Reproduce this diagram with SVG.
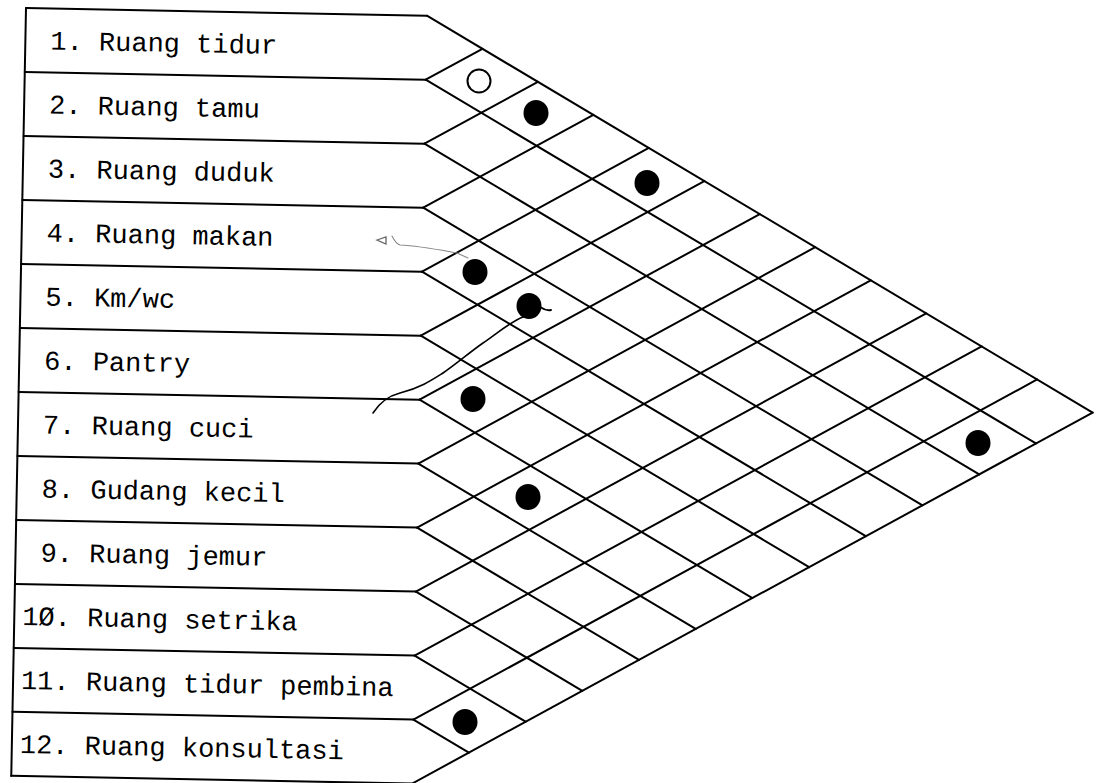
<svg xmlns="http://www.w3.org/2000/svg" width="1097" height="783" viewBox="0 0 1097 783">
<style>
.ln{stroke:#000;stroke-width:2;fill:none;stroke-linecap:round}
.lbl{font-family:"Liberation Mono","DejaVu Sans Mono",monospace;font-size:27px;fill:#000}
.dot{fill:#000}
.open{fill:#fff;stroke:#000;stroke-width:2}
</style>
<rect width="1097" height="783" fill="#fff"/>
<g transform="translate(26,8) rotate(1.1)">
<g id="frame">
<path class="ln" d="M0 0 V768"/>
</g>
<g id="nodes">
<g id="n1"><path class="ln" d="M0 0 H401"/><text class="lbl" x="25" y="41">1. Ruang tidur</text></g>
<g id="n2"><path class="ln" d="M0 64 H401"/><text class="lbl" x="25" y="105">2. Ruang tamu</text></g>
<g id="n3"><path class="ln" d="M0 128 H401"/><text class="lbl" x="25" y="169">3. Ruang duduk</text></g>
<g id="n4"><path class="ln" d="M0 192 H401"/><text class="lbl" x="25" y="233">4. Ruang makan</text></g>
<g id="n5"><path class="ln" d="M0 256 H401"/><text class="lbl" x="25" y="297">5. Km/wc</text></g>
<g id="n6"><path class="ln" d="M0 320 H401"/><text class="lbl" x="25" y="361">6. Pantry</text></g>
<g id="n7"><path class="ln" d="M0 384 H401"/><text class="lbl" x="25" y="425">7. Ruang cuci</text></g>
<g id="n8"><path class="ln" d="M0 448 H401"/><text class="lbl" x="25" y="489">8. Gudang kecil</text></g>
<g id="n9"><path class="ln" d="M0 512 H401"/><text class="lbl" x="25" y="553">9. Ruang jemur</text></g>
<g id="n10"><path class="ln" d="M0 576 H401"/><text class="lbl" x="8" y="617">1Ø. Ruang setrika</text></g>
<g id="n11"><path class="ln" d="M0 640 H401"/><text class="lbl" x="8" y="681">11. Ruang tidur pembina</text></g>
<g id="n12"><path class="ln" d="M0 704 H401"/><path class="ln" d="M0 768 H401"/><text class="lbl" x="8" y="745">12. Ruang konsultasi</text></g>
</g>
<g id="connectors">
<path class="ln" d="M401 0 L1074.2 384 M401 64 L1018.1 416 M401 128 L962 448 M401 192 L905.9 480 M401 256 L849.8 512 M401 320 L793.7 544 M401 384 L737.6 576 M401 448 L681.5 608 M401 512 L625.4 640 M401 576 L569.3 672 M401 640 L513.2 704 M401 704 L457.1 736"/>
<path class="ln" d="M401 64 L457.1 32 M401 128 L513.2 64 M401 192 L569.3 96 M401 256 L625.4 128 M401 320 L681.5 160 M401 384 L737.6 192 M401 448 L793.7 224 M401 512 L849.8 256 M401 576 L905.9 288 M401 640 L962 320 M401 704 L1018.1 352 M401 768 L1074.2 384"/>
</g>
</g>
<g id="marks">
<circle class="open" cx="479" cy="81" r="11.5"/>
<ellipse class="dot" cx="536" cy="113" rx="12.5" ry="13"/>
<ellipse class="dot" cx="647" cy="183" rx="12.5" ry="13"/>
<ellipse class="dot" cx="475" cy="272" rx="12.5" ry="13"/>
<ellipse class="dot" cx="529" cy="306" rx="12.5" ry="13"/>
<ellipse class="dot" cx="473" cy="399" rx="12.5" ry="13"/>
<ellipse class="dot" cx="528" cy="497" rx="12.5" ry="13"/>
<ellipse class="dot" cx="978" cy="443" rx="12.5" ry="13"/>
<ellipse class="dot" cx="465" cy="722" rx="12.5" ry="13"/>
</g>
<g id="annotations" fill="none" stroke-linecap="round">
<polygon points="377,240 386,237 386,244" stroke="#666" stroke-width="1.3"/>
<path d="M392 236 C394 240 396 244 400 245 C420 246 440 250 457 253 L468 258" stroke="#888" stroke-width="1.1"/>
<path d="M523 317 C510 322 495 335 483 343 C470 352 455 365 443 373 C432 380 420 388 400 393 C388 396 380 402 373 413" stroke="#000" stroke-width="1.6"/>
<path d="M540 307 Q546 311 551 310" stroke="#000" stroke-width="2"/>
</g>
</svg>
